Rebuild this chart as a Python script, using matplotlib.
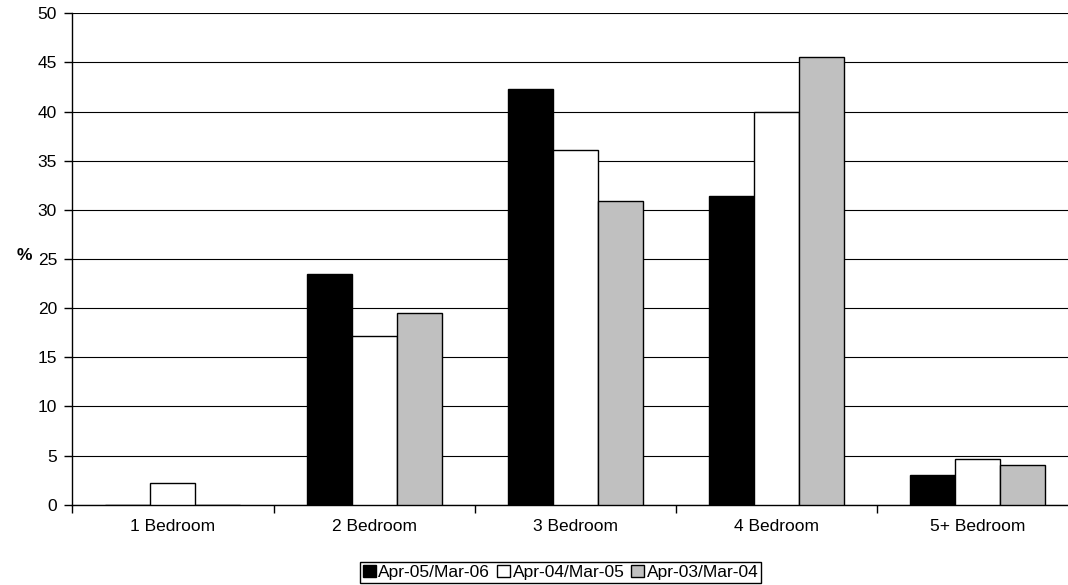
import numpy as np
import matplotlib.pyplot as plt

plt.rcParams['font.family'] = ['Liberation Sans', 'DejaVu Sans']

categories = ["1 Bedroom", "2 Bedroom", "3 Bedroom", "4 Bedroom", "5+ Bedroom"]
series_names = ["Apr-05/Mar-06", "Apr-04/Mar-05", "Apr-03/Mar-04"]
apr05_mar06 = [0.0, 23.5, 42.3, 31.4, 3.0]
apr04_mar05 = [2.2, 17.2, 36.1, 40.0, 4.6]
apr03_mar04 = [0.0, 19.5, 30.9, 45.6, 4.0]
yticks = np.arange(0, 55, 5)

colors = ["black", "white", "#c0c0c0"]

fig = plt.figure(figsize=(10.68, 5.85), dpi=100)
# plot area runs slightly past the right edge of the figure
ax = fig.add_axes([0.0677, 0.1373, 0.9420, 0.8400])

x = np.arange(len(categories)) + 0.5
w = 0.2235
for i, (vals, name) in enumerate(zip([apr05_mar06, apr04_mar05, apr03_mar04], series_names)):
    ax.bar(x + (i - 1) * w, vals, width=w, color=colors[i], edgecolor="black",
           linewidth=1.0, label=name, zorder=3)

ax.set_xlim(0, len(categories))
ax.set_ylim(0, 50)
ax.set_yticks(yticks)
ax.yaxis.grid(True, color="black", linewidth=0.8, zorder=0)
ax.set_axisbelow(True)

# category labels in the middle, tick marks between groups
ax.set_xticks(x)
ax.set_xticklabels(categories, fontsize=12.5)
ax.tick_params(axis="x", length=0, pad=10)
ax.set_xticks(np.arange(0, len(categories) + 1), minor=True)
ax.tick_params(axis="x", which="minor", length=6, width=1, direction="out")
ax.tick_params(axis="y", labelsize=12.5, length=6, width=1, direction="out", pad=5)

for s in ["top", "right"]:
    ax.spines[s].set_visible(False)
ax.spines["left"].set_linewidth(1)
ax.spines["bottom"].set_linewidth(1)

fig.text(0.016, 1 - 255 / 585, "%", fontsize=12.5, fontweight="bold", va="center")

leg = fig.legend(loc="center", bbox_to_anchor=(0.525, 0.0215), ncol=3, fontsize=12.5,
                 frameon=True, fancybox=False, edgecolor="black", framealpha=1,
                 handlelength=0.75, handleheight=0.75, handletextpad=0.15,
                 columnspacing=0.4, borderpad=0.15, borderaxespad=0)
leg.get_frame().set_linewidth(1)

fig.savefig("out.png", dpi=100)
